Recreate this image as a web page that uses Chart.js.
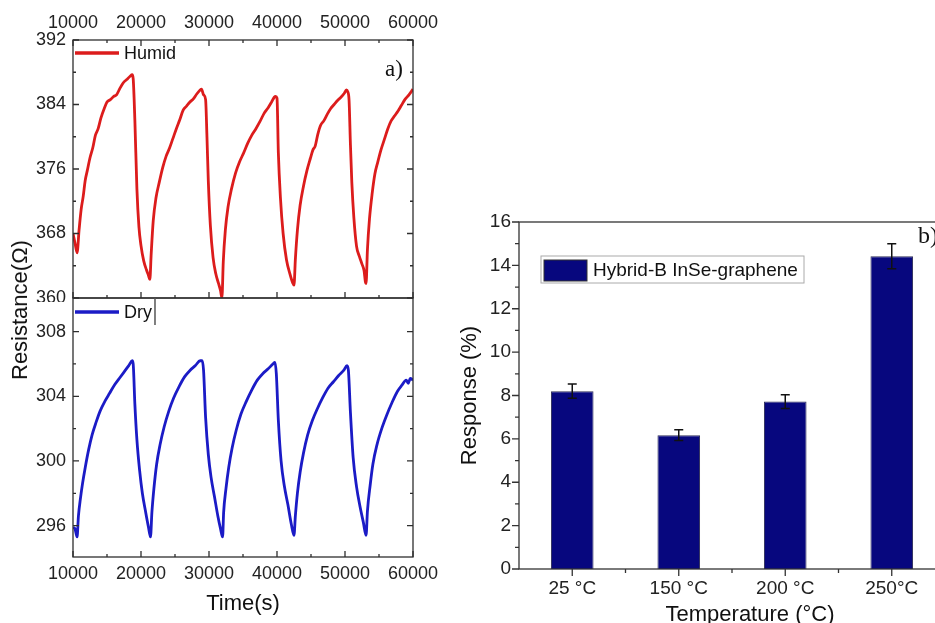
<!DOCTYPE html>
<html>
<head>
<meta charset="utf-8">
<script src="https://cdn.jsdelivr.net/npm/chart.js@4.4.1/dist/chart.umd.min.js"></script>
<style>
  html, body { margin: 0; padding: 0; background: #fff; overflow: hidden; }
  body { width: 935px; height: 623px; position: relative; }
  canvas { position: absolute; }
  #cvHumid { left: 0; top: 0; }
  #cvDry { left: 0; top: 296px; }
  #cvResp { left: 450px; top: 195px; }
  #resTitle {
    position: absolute; left: 20px; top: 310px;
    transform: translate(-50%, -50%) rotate(-90deg);
    font: 22px "Liberation Sans", Arial, sans-serif; color: #111; white-space: nowrap;
  }
</style>
</head>
<body>
<canvas id="cvHumid" width="450" height="302"></canvas>
<canvas id="cvDry" width="450" height="327"></canvas>
<canvas id="cvResp" width="500" height="440"></canvas>
<div id="resTitle">Resistance(Ω)</div>
<script>
// ---- panel a : resistance vs time ----
const timeHumid = [10000,10300,10600,10900,11200,11500,11800,12100,12500,12900,13300,13700,14100,14600,15000,15500,16000,16400,16900,17400,17900,18400,18700,18850,19100,19400,19700,20000,20400,20800,21100,21300,21500,21800,22200,22700,23200,23700,24200,24700,25200,25700,26200,26700,27200,27700,28200,28700,28900,29200,29500,29700,29900,30200,30600,31000,31400,31700,31900,32100,32400,32800,33300,33900,34500,35100,35700,36300,36900,37500,38100,38700,39200,39600,39800,40000,40200,40500,40900,41400,41900,42300,42500,42700,43000,43400,43900,44400,44900,45300,45600,46000,46400,46900,47400,47900,48400,48900,49400,49900,50200,50400,50600,50800,51000,51300,51700,52100,52500,52800,53000,53100,53300,53600,54000,54400,54800,55300,55800,56300,56800,57300,57800,58300,58800,59400,60000];
const resHumid = [368.0,366.8,365.6,368.5,371.0,372.6,374.6,375.8,377.4,378.6,380.2,381.0,382.3,383.5,384.3,384.6,385.0,385.2,386.0,386.7,387.1,387.5,387.7,387.2,382.0,373.5,368.8,366.5,364.6,363.5,362.8,362.3,365.5,369.6,372.4,374.4,376.2,377.6,378.6,379.8,381.0,382.1,383.3,383.8,384.3,384.7,385.3,385.8,385.9,385.2,384.6,380.0,374.5,369.0,365.0,363.0,361.8,360.9,360.0,364.5,368.4,371.3,373.5,375.5,376.9,378.0,379.2,380.2,381.0,381.9,382.9,383.6,384.3,384.9,385.0,384.8,378.0,372.5,368.0,364.7,363.0,361.9,361.6,364.8,368.4,371.5,373.9,375.8,377.3,378.4,378.8,380.3,381.4,382.0,382.8,383.5,384.0,384.5,384.9,385.4,385.8,385.6,384.5,379.0,374.4,370.0,366.4,365.2,364.2,363.4,362.0,361.8,366.0,369.8,373.0,375.4,376.8,378.4,379.7,381.0,382.0,382.6,383.2,383.9,384.6,385.2,385.9];

const timeDry = [10000,10300,10600,10800,11100,11400,11800,12300,12800,13400,14000,14700,15400,16100,16800,17500,18200,18700,18850,19100,19400,19800,20200,20700,21100,21400,21600,21900,22300,22800,23400,24100,24800,25600,26400,27200,28000,28700,29000,29200,29500,29900,30300,30800,31300,31700,32000,32150,32500,32900,33400,34000,34700,35500,36300,37100,37900,38700,39400,39700,39900,40200,40600,41100,41600,42100,42500,42700,43000,43400,43900,44500,45200,45900,46700,47500,48300,49100,49800,50300,50500,50800,51200,51700,52200,52700,53100,53300,53700,54100,54700,55400,56100,56900,57700,58400,59000,59300,59600,60000];
const resDry = [295.9,295.8,295.3,296.6,297.7,298.6,299.6,300.7,301.6,302.4,303.1,303.7,304.2,304.7,305.1,305.5,305.9,306.2,306.0,303.5,301.3,299.4,298.0,296.8,295.9,295.3,296.8,298.3,299.8,301.0,302.1,303.1,303.9,304.6,305.2,305.6,305.9,306.2,306.2,305.6,302.7,300.4,299.0,297.8,296.6,295.8,295.3,296.8,298.3,299.6,300.8,301.9,302.9,303.7,304.4,305.0,305.4,305.7,306.0,306.1,305.4,302.5,300.0,298.4,297.3,296.1,295.4,296.6,298.0,299.3,300.5,301.6,302.5,303.2,303.9,304.5,304.9,305.3,305.6,305.9,305.6,303.0,300.2,298.4,297.2,296.2,295.4,296.9,298.5,299.8,301.0,302.0,302.8,303.6,304.3,304.7,305.0,304.8,305.1,305.0];

const timeTicks = [10000, 20000, 30000, 40000, 50000, 60000];
const humidTicks = [360, 368, 376, 384, 392];
const dryTicks = [296, 300, 304, 308];

// ---- panel b : response vs temperature ----
const tempLabels = ['25 °C', '150 °C', '200 °C', '250°C'];
const response = [8.2, 6.17, 7.72, 14.42];
const responseErr = [0.33, 0.25, 0.32, 0.58];
const responseTicks = [0, 2, 4, 6, 8, 10, 12, 14, 16];

Chart.defaults.font.family = '"Liberation Sans", Arial, sans-serif';
Chart.defaults.font.size = 18;
Chart.defaults.color = '#222';

const SANS = '"Liberation Sans", Arial, sans-serif';
const SERIF = '"Liberation Serif", "Times New Roman", serif';

function fixedTicks(values) {
  return s => { s.ticks = values.map(v => ({ value: v })); };
}
function mids(vals) {
  const out = [];
  for (let i = 0; i < vals.length - 1; i++) out.push((vals[i] + vals[i + 1]) / 2);
  return out;
}
function hTicks(ctx, scale, vals, y, len) {
  vals.forEach(v => { const p = scale.getPixelForValue(v); ctx.moveTo(p, y); ctx.lineTo(p, y + len); });
}
function vTicks(ctx, scale, vals, x, len) {
  vals.forEach(v => { const p = scale.getPixelForValue(v); ctx.moveTo(x, p); ctx.lineTo(x + len, p); });
}

// frame, inward ticks and legend of the two stacked panels
function panelAPlugin(o) {
  return {
    id: 'panelA',
    afterDatasetsDraw(chart) {
      const { ctx, chartArea: a } = chart;
      const xs = chart.scales.x, ys = chart.scales.y;
      const xMaj = xs.ticks.map(t => t.value), yMaj = ys.ticks.map(t => t.value);
      ctx.save();
      ctx.strokeStyle = '#2e2e2e';
      ctx.lineWidth = 1.3;
      ctx.strokeRect(a.left, a.top, a.right - a.left, a.bottom - a.top);
      ctx.beginPath();
      if (o.topTicks) { hTicks(ctx, xs, xMaj, a.top, 6); hTicks(ctx, xs, mids(xMaj), a.top, 3); }
      hTicks(ctx, xs, xMaj, a.bottom, -6); hTicks(ctx, xs, mids(xMaj), a.bottom, -3);
      vTicks(ctx, ys, yMaj, a.left, 6); vTicks(ctx, ys, mids(yMaj), a.left, 3);
      vTicks(ctx, ys, yMaj, a.right, -6); vTicks(ctx, ys, mids(yMaj), a.right, -3);
      ctx.stroke();

      // legend
      ctx.strokeStyle = o.color;
      ctx.lineWidth = 3.5;
      ctx.beginPath();
      ctx.moveTo(a.left + 2, a.top + o.legY); ctx.lineTo(a.left + 46, a.top + o.legY);
      ctx.stroke();
      ctx.fillStyle = '#111';
      ctx.font = '18px ' + SANS;
      ctx.textBaseline = 'middle';
      ctx.fillText(o.label, a.left + 51, a.top + o.legY + 1);
      if (o.cursor) {
        const w = ctx.measureText(o.label).width;
        ctx.strokeStyle = '#555'; ctx.lineWidth = 1.5;
        ctx.beginPath();
        ctx.moveTo(a.left + 54 + w, a.top); ctx.lineTo(a.left + 54 + w, a.top + 27);
        ctx.stroke();
      }
      if (o.tag) {
        ctx.font = '23px ' + SERIF;
        ctx.textBaseline = 'alphabetic';
        ctx.fillText(o.tag, a.right - 28, a.top + 36);
      }
      ctx.restore();
    }
  };
}

function lineOptions(yMin, yMax, yTickVals, xPos, pad, xHeight, xPadding, withTitle) {
  return {
    responsive: false,
    animation: false,
    layout: { padding: pad },
    plugins: { legend: { display: false }, tooltip: { enabled: false } },
    scales: {
      x: {
        type: 'linear', position: xPos, min: 10000, max: 60000,
        afterBuildTicks: fixedTicks(timeTicks),
        grid: { display: false, drawTicks: false }, border: { display: false },
        ticks: { display: xPos === 'top' || withTitle, padding: xPadding, maxRotation: 0, minRotation: 0, autoSkip: false, callback: v => String(v) },
        title: { display: withTitle, text: 'Time(s)', font: { size: 22 }, color: '#111', padding: { top: 0, bottom: 6 } },
        afterFit(s) { s.height = xHeight; s.paddingLeft = 0; s.paddingRight = 0; }
      },
      y: {
        type: 'linear', min: yMin, max: yMax,
        afterBuildTicks: fixedTicks(yTickVals),
        grid: { display: false, drawTicks: false }, border: { display: false },
        ticks: { padding: 7, callback: v => String(v) },
        afterFit(s) { s.width = 73; s.paddingTop = 0; s.paddingBottom = 0; }
      }
    }
  };
}

new Chart(document.getElementById('cvHumid'), {
  type: 'line',
  data: {
    datasets: [{
      data: timeHumid.map((t, i) => ({ x: t, y: resHumid[i] })),
      borderColor: '#dc1c1c', borderWidth: 2.8, pointRadius: 0,
      cubicInterpolationMode: 'monotone'
    }]
  },
  options: lineOptions(360, 392, humidTicks, 'top', { left: 0, top: 0, right: 37, bottom: 4 }, 40, 6, false),
  plugins: [panelAPlugin({ color: '#dc1c1c', label: 'Humid', legY: 13, topTicks: true, tag: 'a)' })]
});

new Chart(document.getElementById('cvDry'), {
  type: 'line',
  data: {
    datasets: [{
      data: timeDry.map((t, i) => ({ x: t, y: resDry[i] })),
      borderColor: '#1b1bc6', borderWidth: 2.8, pointRadius: 0,
      cubicInterpolationMode: 'monotone'
    }]
  },
  options: lineOptions(294.06, 310.08, dryTicks, 'bottom', { left: 0, top: 2, right: 37, bottom: 0 }, 66, 6, true),
  plugins: [panelAPlugin({ color: '#1b1bc6', label: 'Dry', legY: 14, topTicks: false, cursor: true })]
});

// frame, outward ticks, error bars and legend of panel b
const panelBPlugin = {
  id: 'panelB',
  afterDatasetsDraw(chart) {
    const { ctx, chartArea: a } = chart;
    const xs = chart.scales.x, ys = chart.scales.y;
    const meta = chart.getDatasetMeta(0);
    ctx.save();
    // error bars
    ctx.strokeStyle = '#111';
    ctx.lineWidth = 1.5;
    ctx.beginPath();
    meta.data.forEach((bar, i) => {
      const hi = ys.getPixelForValue(response[i] + responseErr[i]);
      const lo = ys.getPixelForValue(response[i] - responseErr[i]);
      ctx.moveTo(bar.x, hi); ctx.lineTo(bar.x, lo);
      ctx.moveTo(bar.x - 4.5, hi); ctx.lineTo(bar.x + 4.5, hi);
      ctx.moveTo(bar.x - 4.5, lo); ctx.lineTo(bar.x + 4.5, lo);
    });
    ctx.stroke();
    // frame + ticks
    ctx.strokeStyle = '#333';
    ctx.lineWidth = 1.3;
    ctx.strokeRect(a.left, a.top, a.right - a.left, a.bottom - a.top);
    ctx.beginPath();
    const yMaj = ys.ticks.map(t => t.value);
    vTicks(ctx, ys, yMaj, a.left, -7);
    vTicks(ctx, ys, mids(yMaj), a.left, -4);
    tempLabels.forEach((_, i) => {
      const p = xs.getPixelForValue(i);
      ctx.moveTo(p, a.bottom); ctx.lineTo(p, a.bottom + 7);
      if (i > 0) {
        const q = xs.getPixelForValue(i - 0.5);
        ctx.moveTo(q, a.bottom); ctx.lineTo(q, a.bottom + 4);
      }
    });
    ctx.stroke();
    // legend
    const lx = a.left + 22, ly = a.top + 34;
    ctx.strokeStyle = '#aaa'; ctx.lineWidth = 1;
    ctx.strokeRect(lx, ly, 263, 27);
    ctx.fillStyle = '#07077e';
    ctx.fillRect(lx + 3, ly + 4, 43, 21);
    ctx.strokeStyle = '#333';
    ctx.strokeRect(lx + 3, ly + 4, 43, 21);
    ctx.fillStyle = '#111';
    ctx.font = '19px ' + SANS;
    ctx.textBaseline = 'middle';
    ctx.fillText('Hybrid-B InSe-graphene', lx + 52, ly + 15);
    // axis title and tag
    ctx.font = '22px ' + SANS;
    ctx.textAlign = 'center';
    ctx.fillText('Temperature (°C)', 300, 420);
    ctx.textAlign = 'left';
    ctx.textBaseline = 'alphabetic';
    ctx.font = '24px ' + SERIF;
    ctx.fillText('b)', 468, 48);
    ctx.restore();
  }
};

new Chart(document.getElementById('cvResp'), {
  type: 'bar',
  data: {
    labels: tempLabels,
    datasets: [{
      data: response,
      backgroundColor: '#07077e', borderColor: '#30305a', borderWidth: 1,
      barPercentage: 0.4, categoryPercentage: 1
    }]
  },
  options: {
    responsive: false,
    animation: false,
    layout: { padding: { left: 0, top: 27, right: 5, bottom: 0 } },
    plugins: { legend: { display: false }, tooltip: { enabled: false } },
    scales: {
      x: {
        grid: { display: false, drawTicks: false }, border: { display: false },
        ticks: { padding: 8, font: { size: 19 }, maxRotation: 0, autoSkip: false },
        afterFit(s) { s.height = 66; s.paddingLeft = 0; s.paddingRight = 0; }
      },
      y: {
        min: 0, max: 16,
        afterBuildTicks: fixedTicks(responseTicks),
        grid: { display: false, drawTicks: false }, border: { display: false },
        ticks: { padding: 8, font: { size: 19 } },
        title: { display: true, text: 'Response (%)', font: { size: 22 }, color: '#111', padding: { top: 7, bottom: 0 } },
        afterFit(s) { s.width = 69; s.paddingTop = 0; s.paddingBottom = 0; }
      }
    }
  },
  plugins: [panelBPlugin]
});
</script>
</body>
</html>
